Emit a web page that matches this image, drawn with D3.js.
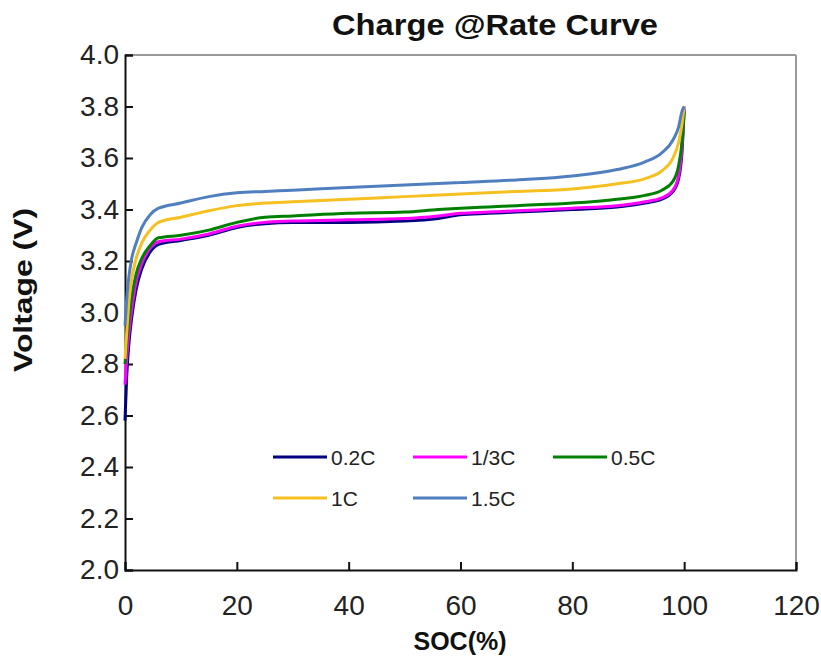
<!DOCTYPE html>
<html>
<head>
<meta charset="utf-8">
<script src="https://cdn.jsdelivr.net/npm/d3@7"></script>
<style>
  body { margin: 0; background: #fff; }
  svg { font-family: "Liberation Sans", Arial, sans-serif; }
</style>
</head>
<body>
<div id="chart"></div>
<script>
// series data
var seriesNames = ["0.2C", "1/3C", "0.5C", "1C", "1.5C"];

var socLow = [0, 0.3, 0.7, 1.2, 2, 3, 4.5, 6, 10, 15, 20, 25, 30, 40, 50, 56, 60, 65, 70, 80, 88, 93, 96, 98, 99, 99.6, 100];
var v02 = [2.58, 2.75, 2.88, 2.98, 3.09, 3.17, 3.235, 3.265, 3.28, 3.30, 3.33, 3.345, 3.35, 3.35, 3.355, 3.365, 3.38, 3.385, 3.39, 3.40, 3.41, 3.425, 3.44, 3.47, 3.52, 3.62, 3.79];
var v033 = [2.72, 2.82, 2.92, 3.01, 3.12, 3.19, 3.25, 3.275, 3.285, 3.305, 3.335, 3.35, 3.355, 3.36, 3.365, 3.375, 3.385, 3.39, 3.395, 3.405, 3.415, 3.43, 3.445, 3.475, 3.53, 3.64, 3.80];
var v05 = [2.80, 2.88, 2.97, 3.06, 3.15, 3.21, 3.26, 3.29, 3.30, 3.32, 3.35, 3.37, 3.375, 3.385, 3.39, 3.40, 3.405, 3.41, 3.415, 3.425, 3.44, 3.455, 3.475, 3.51, 3.57, 3.66, 3.78];

var socHigh = [0, 0.3, 0.7, 1.2, 2, 3, 4.5, 6, 10, 15, 20, 25, 30, 40, 50, 60, 70, 80, 88, 93, 96, 98, 99, 99.6, 100];
var v1 = [2.82, 2.92, 3.04, 3.13, 3.21, 3.27, 3.32, 3.35, 3.37, 3.395, 3.415, 3.425, 3.43, 3.44, 3.45, 3.46, 3.47, 3.48, 3.50, 3.52, 3.55, 3.60, 3.66, 3.73, 3.80];
var v15 = [2.95, 3.05, 3.14, 3.21, 3.27, 3.33, 3.38, 3.405, 3.425, 3.45, 3.465, 3.47, 3.475, 3.485, 3.495, 3.505, 3.515, 3.53, 3.555, 3.585, 3.62, 3.67, 3.72, 3.78, 3.80];

var xTicks = [0, 20, 40, 60, 80, 100, 120];
var yTicks = [2.0, 2.2, 2.4, 2.6, 2.8, 3.0, 3.2, 3.4, 3.6, 3.8, 4.0];

var colors = ["#000080", "#ff00ff", "#008000", "#f5c020", "#4f7fbf"];

var seriesX = [socLow, socLow, socLow, socHigh, socHigh];
var seriesY = [v02, v033, v05, v1, v15];

var svgWidth = 821;
var svgHeight = 659;

var margin = { top: 55, right: 25, bottom: 89, left: 125 };
var width = svgWidth - margin.left - margin.right;
var height = svgHeight - margin.top - margin.bottom;

var svg = d3.select("#chart")
    .append("svg")
    .attr("width", svgWidth)
    .attr("height", svgHeight);

var chartGroup = svg.append("g")
    .attr("transform", `translate(${margin.left}, ${margin.top})`);

var xScale = d3.scaleLinear().domain([0, 120]).range([0, width]);
var yScale = d3.scaleLinear().domain([2.0, 4.0]).range([height, 0]);

// frame top / right
chartGroup.append("line")
    .attr("x1", 0).attr("x2", width).attr("y1", 0).attr("y2", 0)
    .attr("stroke", "#999").attr("stroke-width", 2);
chartGroup.append("line")
    .attr("x1", width).attr("x2", width).attr("y1", 0).attr("y2", height)
    .attr("stroke", "#999").attr("stroke-width", 2);

var bottomAxis = d3.axisBottom(xScale)
    .tickValues(xTicks)
    .tickSize(-8)
    .tickPadding(25)
    .tickFormat(d3.format("d"));

var leftAxis = d3.axisLeft(yScale)
    .tickValues(yTicks)
    .tickSize(-8)
    .tickPadding(6)
    .tickFormat(d3.format(".1f"));

var xAxis = chartGroup.append("g")
    .attr("transform", `translate(0, ${height})`)
    .call(bottomAxis);

var yAxis = chartGroup.append("g")
    .call(leftAxis);

[xAxis, yAxis].forEach(function (ax) {
    ax.select(".domain").attr("stroke", "#111").attr("stroke-width", 2);
    ax.selectAll(".tick line").attr("stroke", "#111").attr("stroke-width", 2);
    ax.selectAll(".tick text")
        .attr("font-size", "28px")
        .attr("fill", "#222")
        .attr("font-family", "Liberation Sans, Arial, sans-serif");
});

var line = d3.line()
    .x(d => xScale(d[0]))
    .y(d => yScale(d[1]))
    .curve(d3.curveMonotoneX);

seriesNames.forEach(function (name, i) {
    var pts = seriesX[i].map((s, j) => [s, seriesY[i][j]]);
    chartGroup.append("path")
        .datum(pts)
        .attr("fill", "none")
        .attr("stroke", colors[i])
        .attr("stroke-width", 3)
        .attr("stroke-linejoin", "round")
        .attr("d", line);
});

// legend
var legendPos = [[273, 457], [413, 457], [553, 457], [273, 498], [413, 498]];
seriesNames.forEach(function (name, i) {
    var lx = legendPos[i][0], ly = legendPos[i][1];
    svg.append("line")
        .attr("x1", lx).attr("x2", lx + 54)
        .attr("y1", ly).attr("y2", ly)
        .attr("stroke", colors[i])
        .attr("stroke-width", 3);
    svg.append("text")
        .attr("x", lx + 58)
        .attr("y", ly)
        .attr("dy", "0.36em")
        .attr("font-size", "21px")
        .attr("fill", "#222")
        .text(name);
});

// title and axis labels
svg.append("text")
    .attr("x", 495)
    .attr("y", 35)
    .attr("text-anchor", "middle")
    .attr("font-size", "30px")
    .attr("font-weight", "bold")
    .attr("fill", "#111")
    .attr("textLength", 326)
    .attr("lengthAdjust", "spacingAndGlyphs")
    .text("Charge @Rate Curve");

svg.append("text")
    .attr("x", 460)
    .attr("y", 650)
    .attr("text-anchor", "middle")
    .attr("font-size", "25px")
    .attr("font-weight", "bold")
    .attr("fill", "#111")
    .text("SOC(%)");

svg.append("text")
    .attr("transform", "translate(32, 290) rotate(-90)")
    .attr("text-anchor", "middle")
    .attr("font-size", "26px")
    .attr("font-weight", "bold")
    .attr("fill", "#111")
    .attr("textLength", 164)
    .attr("lengthAdjust", "spacingAndGlyphs")
    .text("Voltage (V)");
</script>
</body>
</html>
